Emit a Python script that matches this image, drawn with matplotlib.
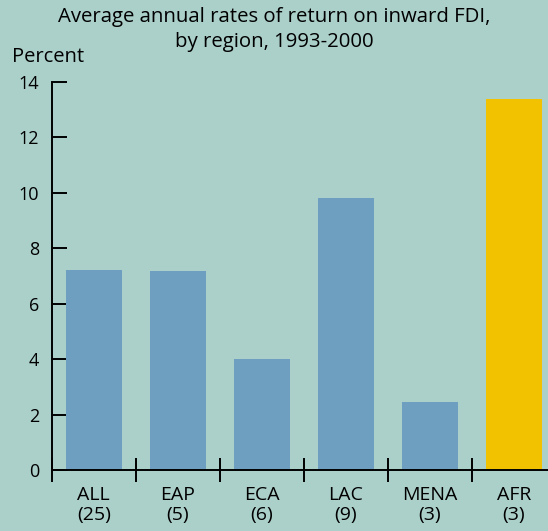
import numpy as np
import matplotlib.pyplot as plt

regions = ['ALL', 'EAP', 'ECA', 'LAC', 'MENA', 'AFR']
counts = [25, 5, 6, 9, 3, 3]
returns = [7.22, 7.18, 4.01, 9.82, 2.46, 13.39]
title_lines = ['Average annual rates of return on inward FDI,', 'by region, 1993-2000']

bg = '#abcfc9'
blue = '#6e9fc0'
gold = '#f2c200'

plt.rcParams['font.family'] = ['Open Sans', 'DejaVu Sans']

fig = plt.figure(figsize=(5.48, 5.31), dpi=100, facecolor=bg)
ax = fig.add_axes([51.7 / 548, 1 - 470 / 531, 504 / 548, 388 / 531])
ax.set_facecolor(bg)

x = np.arange(len(regions))
colors = [blue] * (len(regions) - 1) + [gold]
ax.bar(x, returns, width=0.667, color=colors, zorder=2)

ax.set_xlim(-0.5, len(regions) - 0.5)
ax.set_ylim(0, 14)

for s in ['top', 'right']:
    ax.spines[s].set_visible(False)
for s in ['left', 'bottom']:
    ax.spines[s].set_linewidth(1.4)
    ax.spines[s].set_zorder(3)

ax.set_yticks(np.arange(0, 15, 2))
ax.set_yticklabels([str(v) for v in range(0, 15, 2)], fontsize=13)
ax.tick_params(axis='y', direction='in', length=11, width=1.4, pad=9)

# boundary ticks between categories
ax.set_xticks(np.arange(-0.5, len(regions) - 0.5, 1.0))
ax.set_xticklabels([])
ax.tick_params(axis='x', direction='inout', length=17, width=1.4)

for i, (r, c) in enumerate(zip(regions, counts)):
    ax.text(i, -1.26, f'{r}\n({c})', ha='center', va='center', fontsize=14,
            linespacing=1.1)

fig.text(0.5, 1 - 17 / 531, title_lines[0], ha='center', va='center', fontsize=14.7)
fig.text(0.5, 1 - 42 / 531, title_lines[1], ha='center', va='center', fontsize=14.7)
fig.text(12 / 548, 1 - 57 / 531, 'Percent', ha='left', va='center', fontsize=14.5)

fig.savefig('out.png', dpi=100, facecolor=bg)
